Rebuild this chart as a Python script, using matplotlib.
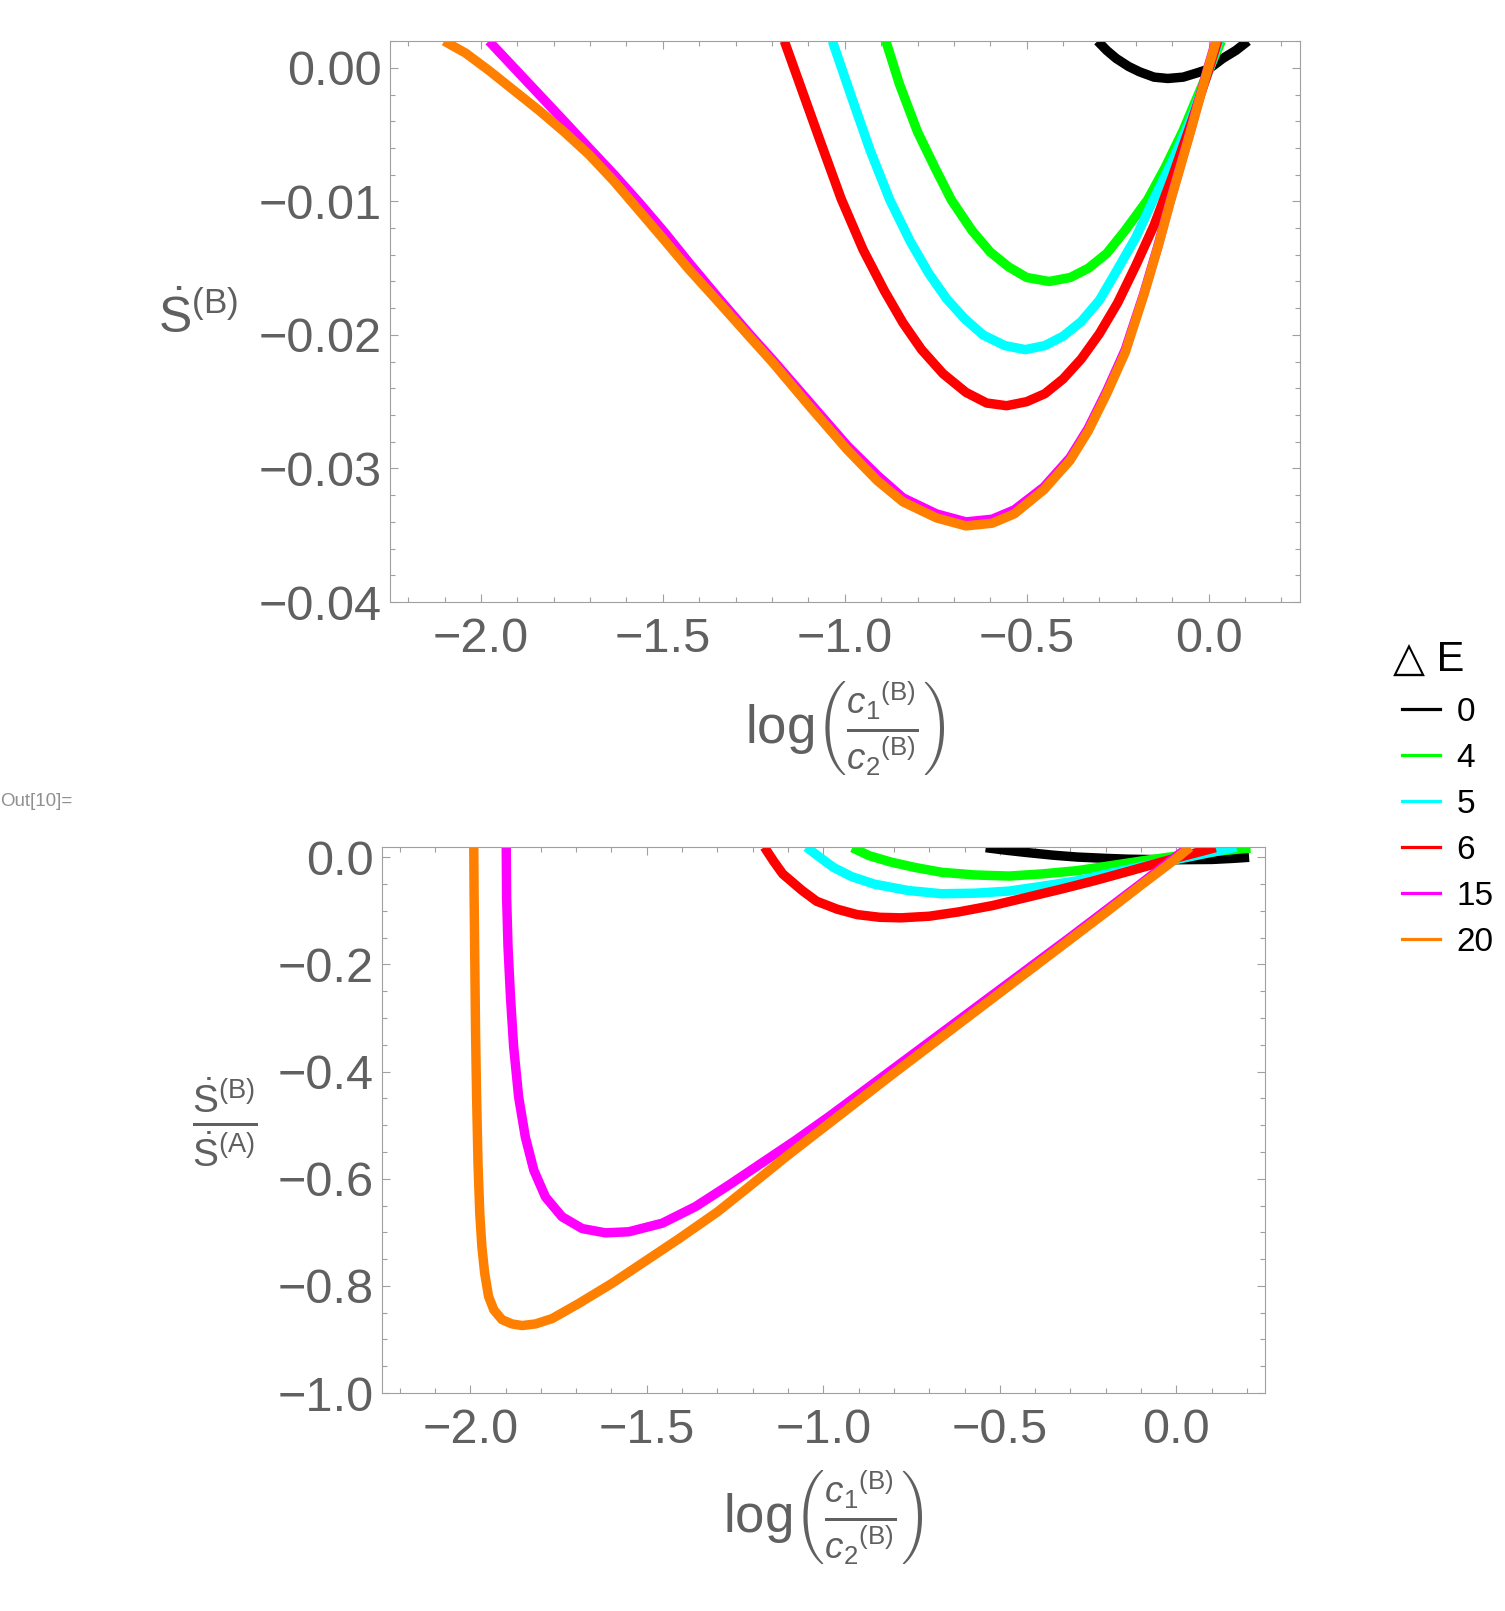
import matplotlib
matplotlib.use('Agg')

import numpy as np
import matplotlib.pyplot as plt
from matplotlib.lines import Line2D
from matplotlib.ticker import MultipleLocator, FuncFormatter

plt.rcParams['font.family'] = ['Liberation Sans', 'DejaVu Sans']
plt.rcParams['mathtext.fontset'] = 'custom'
plt.rcParams['mathtext.rm'] = 'Liberation Sans'
plt.rcParams['mathtext.it'] = 'Liberation Sans:italic'

# --- datos ---
delta_E = ['0', '4', '5', '6', '15', '20']
colores = ['#000000', '#00ff00', '#00ffff', '#ff0000', '#ff00ff', '#ff8000']

# panel superior: S punto (B)
x0_top = [-0.305, -0.28, -0.254, -0.22, -0.19, -0.15, -0.112, -0.07, -0.034, 0.0, 0.039, 0.075, 0.108]
y0_top = [0.0020, 0.0013, 0.0007, 0.0001, -0.0003, -0.0007, -0.0008, -0.0007, -0.0004, -0.0001, 0.0007, 0.0013, 0.0020]

x4_top = [-0.887, -0.85, -0.80, -0.75, -0.707, -0.65, -0.60, -0.55, -0.50, -0.438, -0.38, -0.33, -0.28, -0.23,
          -0.168, -0.12, -0.07, -0.03, 0.0, 0.035]
y4_top = [0.0020, -0.0012, -0.0048, -0.0076, -0.0099, -0.0122, -0.0138, -0.0149, -0.0157, -0.0160, -0.0157, -0.0150,
          -0.0139, -0.0122, -0.0099, -0.0075, -0.0047, -0.0021, -0.0002, 0.0020]

x5_top = [-1.034, -0.98, -0.93, -0.876, -0.82, -0.769, -0.72, -0.67, -0.62, -0.56, -0.504, -0.45, -0.40, -0.35, -0.30,
          -0.259, -0.20, -0.152, -0.10, -0.05, 0.0, 0.028]
y5_top = [0.0020, -0.0023, -0.0062, -0.0099, -0.0130, -0.0154, -0.0173, -0.0188, -0.0200, -0.0208, -0.0211, -0.0208,
          -0.0201, -0.0190, -0.0174, -0.0155, -0.0127, -0.0099, -0.0070, -0.0039, -0.0003, 0.0020]

x6_top = [-1.166, -1.12, -1.070, -1.010, -0.95, -0.891, -0.84, -0.789, -0.73, -0.667, -0.61, -0.555, -0.50, -0.45, -0.40,
          -0.35, -0.30, -0.25, -0.20, -0.15, -0.10, -0.05, 0.0, 0.025]
y6_top = [0.0020, -0.0015, -0.0053, -0.0098, -0.0136, -0.0167, -0.0191, -0.0211, -0.0229, -0.0243, -0.0251, -0.0253,
          -0.0250, -0.0244, -0.0233, -0.0218, -0.0199, -0.0176, -0.0148, -0.0118, -0.0082, -0.0043, -0.0002, 0.0020]

x15_top = [-1.978, -1.909, -1.840, -1.771, -1.703, -1.634, -1.565, -1.496, -1.428, -1.345, -1.263, -1.197, -1.095, -0.993,
           -0.911, -0.840, -0.748, -0.667, -0.595, -0.534, -0.453, -0.381, -0.331, -0.280, -0.229, -0.178, -0.14,
           -0.105, -0.05, -0.003, 0.020]
y15_top = [0.0020, 0.0000, -0.0020, -0.0040, -0.0060, -0.0080, -0.0101, -0.0123, -0.0146, -0.0173, -0.0199, -0.0219,
           -0.0251, -0.0283, -0.0305, -0.0322, -0.0334, -0.0340, -0.0338, -0.0331, -0.0314, -0.0292, -0.0270, -0.0242,
           -0.0211, -0.0169, -0.0134, -0.0099, -0.0047, -0.0001, 0.0020]

x20_top = [-2.101, -2.042, -1.978, -1.909, -1.840, -1.771, -1.703, -1.634, -1.565, -1.496, -1.428, -1.345, -1.263,
           -1.197, -1.095, -0.993, -0.911, -0.840, -0.748, -0.667, -0.595, -0.534, -0.453, -0.381, -0.331, -0.280,
           -0.229, -0.178, -0.14, -0.105, -0.05, -0.003, 0.021]
y20_top = [0.0020, 0.0011, -0.0002, -0.0017, -0.0032, -0.0048, -0.0065, -0.0085, -0.0107, -0.0129, -0.0151, -0.0176,
           -0.0201, -0.0221, -0.0254, -0.0286, -0.0309, -0.0325, -0.0337, -0.0343, -0.0341, -0.0334, -0.0316, -0.0294,
           -0.0272, -0.0244, -0.0213, -0.0170, -0.0135, -0.0100, -0.0048, -0.0002, 0.0020]

# panel inferior: cociente S(B)/S(A)
x0_bot = [-0.540, -0.48, -0.425, -0.35, -0.282, -0.20, -0.138, -0.06, 0.005, 0.101, 0.160, 0.206]
y0_bot = [0.018, 0.013, 0.009, 0.004, 0.0005, -0.002, -0.0035, -0.0043, -0.0045, -0.004, -0.002, 0.000]

x4_bot = [-0.918, -0.87, -0.808, -0.74, -0.665, -0.57, -0.473, -0.38, -0.282, -0.19, -0.090, 0.053, 0.187, 0.21]
y4_bot = [0.018, 0.003, -0.009, -0.019, -0.028, -0.033, -0.035, -0.031, -0.025, -0.016, -0.006, 0.007, 0.016, 0.017]

x5_bot = [-1.048, -1.01, -0.971, -0.92, -0.856, -0.76, -0.665, -0.57, -0.473, -0.38, -0.282, -0.19, -0.090, 0.053,
          0.149, 0.17]
y5_bot = [0.019, 0.000, -0.019, -0.036, -0.050, -0.062, -0.068, -0.067, -0.063, -0.054, -0.044, -0.030, -0.016, 0.003,
          0.016, 0.019]

x6_bot = [-1.167, -1.14, -1.115, -1.06, -1.019, -0.96, -0.904, -0.84, -0.780, -0.70, -0.617, -0.52, -0.425, -0.33,
          -0.234, -0.14, -0.043, 0.03, 0.111]
y6_bot = [0.019, -0.008, -0.031, -0.062, -0.082, -0.097, -0.107, -0.112, -0.113, -0.110, -0.102, -0.090, -0.075,
          -0.060, -0.044, -0.027, -0.009, 0.004, 0.018]

x15_bot = [-1.898, -1.897, -1.893, -1.886, -1.877, -1.863, -1.844, -1.820, -1.787, -1.740, -1.683, -1.617, -1.551,
           -1.456, -1.362, -1.268, -1.173, -1.078, -0.984, -0.9, -0.8, -0.7, -0.6, -0.5, -0.4, -0.3, -0.2, -0.1,
           0.0, 0.035]
y15_bot = [0.020, -0.074, -0.167, -0.261, -0.354, -0.447, -0.522, -0.584, -0.634, -0.671, -0.693, -0.701, -0.699,
           -0.683, -0.652, -0.612, -0.570, -0.528, -0.484, -0.443, -0.394, -0.345, -0.296, -0.247, -0.198, -0.149,
           -0.099, -0.049, 0.002, 0.019]

x20_bot = [-1.990, -1.989, -1.987, -1.985, -1.982, -1.978, -1.973, -1.967, -1.959, -1.948, -1.933, -1.910, -1.882,
           -1.853, -1.815, -1.768, -1.693, -1.598, -1.50, -1.409, -1.30, -1.22, -1.10, -1.0, -0.9, -0.8, -0.7, -0.6,
           -0.5, -0.4, -0.3, -0.2, -0.1, 0.0, 0.039]
y20_bot = [0.020, -0.074, -0.198, -0.323, -0.447, -0.571, -0.665, -0.727, -0.777, -0.820, -0.845, -0.863, -0.871,
           -0.874, -0.871, -0.861, -0.833, -0.795, -0.752, -0.712, -0.662, -0.620, -0.556, -0.505, -0.454, -0.403,
           -0.353, -0.303, -0.253, -0.203, -0.153, -0.103, -0.052, -0.002, 0.019]

curvas_top = [(x0_top, y0_top), (x4_top, y4_top), (x5_top, y5_top), (x6_top, y6_top), (x15_top, y15_top), (x20_top, y20_top)]
curvas_bot = [(x0_bot, y0_bot), (x4_bot, y4_bot), (x5_bot, y5_bot), (x6_bot, y6_bot), (x15_bot, y15_bot), (x20_bot, y20_bot)]

gris = '#606060'
gris_marco = '#a0a0a0'
grosor = 6.8

def fmt(dec):
    def f(v, pos):
        s = ('%.' + str(dec) + 'f') % v
        if float(s) == 0:
            s = s.replace('-', '')
        return s.replace('-', '\u2212')
    return FuncFormatter(f)

def estilo(ax, ymaj, ymin, ydec):
    ax.xaxis.set_major_locator(MultipleLocator(0.5))
    ax.xaxis.set_minor_locator(MultipleLocator(0.1))
    ax.yaxis.set_major_locator(MultipleLocator(ymaj))
    ax.yaxis.set_minor_locator(MultipleLocator(ymin))
    ax.xaxis.set_major_formatter(fmt(1))
    ax.yaxis.set_major_formatter(fmt(ydec))
    ax.tick_params(which='both', direction='in', top=True, right=True, color=gris_marco, width=0.8)
    ax.tick_params(which='major', length=6)
    ax.tick_params(which='minor', length=3.5)
    ax.tick_params(axis='x', labelsize=35, labelcolor=gris, pad=11)
    ax.tick_params(axis='y', labelsize=35, labelcolor=gris, pad=6)
    for s in ax.spines.values():
        s.set_color(gris_marco)
        s.set_linewidth(0.8)

fig = plt.figure(figsize=(15.05, 16.11), dpi=100)

ax1 = fig.add_axes([0.2591, 0.6263, 0.8635 - 0.2591, 0.9745 - 0.6263])
for (xx, yy), c in zip(curvas_top, colores):
    ax1.plot(xx, yy, color=c, lw=grosor, solid_capstyle='butt', solid_joinstyle='round')
ax1.set_xlim(-2.25, 0.25)
ax1.set_ylim(-0.04, 0.002)
estilo(ax1, 0.01, 0.002, 2)

ax2 = fig.add_axes([0.2538, 0.1353, 0.8403 - 0.2538, 0.4745 - 0.1353])
for (xx, yy), c in zip(curvas_bot, colores):
    ax2.plot(xx, yy, color=c, lw=grosor, solid_capstyle='butt', solid_joinstyle='round')
ax2.set_xlim(-2.25, 0.25)
ax2.set_ylim(-1.0, 0.02)
estilo(ax2, 0.2, 0.05, 1)

# etiquetas de ejes
etiq_x = r'$\mathrm{log}\left(\frac{{c_1}^{\mathrm{(B)}}}{{c_2}^{\mathrm{(B)}}}\right)$'
fig.text(0.5615, 0.548, etiq_x, fontsize=38, color=gris, ha='center', va='center')
fig.text(0.547, 0.0583, etiq_x, fontsize=38, color=gris, ha='center', va='center')
fig.text(0.1316, 0.8026, r'$\dot{\mathrm{S}}^{\mathrm{(B)}}$', fontsize=36, color=gris, ha='center', va='center')
fig.text(0.1495, 0.3036, r'$\frac{\dot{\mathrm{S}}^{\mathrm{(B)}}}{\dot{\mathrm{S}}^{\mathrm{(A)}}}$', fontsize=40,
         color=gris, ha='center', va='center')
fig.text(0.0, 1 - 801 / 1611, 'Out[10]=', fontsize=13.5, color='#909090', ha='left', va='center')

# leyenda
fig.text(1393 / 1505, 1 - 660 / 1611, '\u25b3 E', fontsize=30, color='black', ha='left', va='center')
handles = [Line2D([], [], color=c, lw=2.3) for c in colores]
fig.legend(handles, delta_E, loc='upper left', bbox_to_anchor=(1402 / 1505, 1 - 697 / 1611),
           frameon=False, fontsize=24, handlelength=1.14, handletextpad=0.5,
           labelspacing=0.45, borderpad=0, borderaxespad=0)

plt.savefig('out.png', dpi=100)
